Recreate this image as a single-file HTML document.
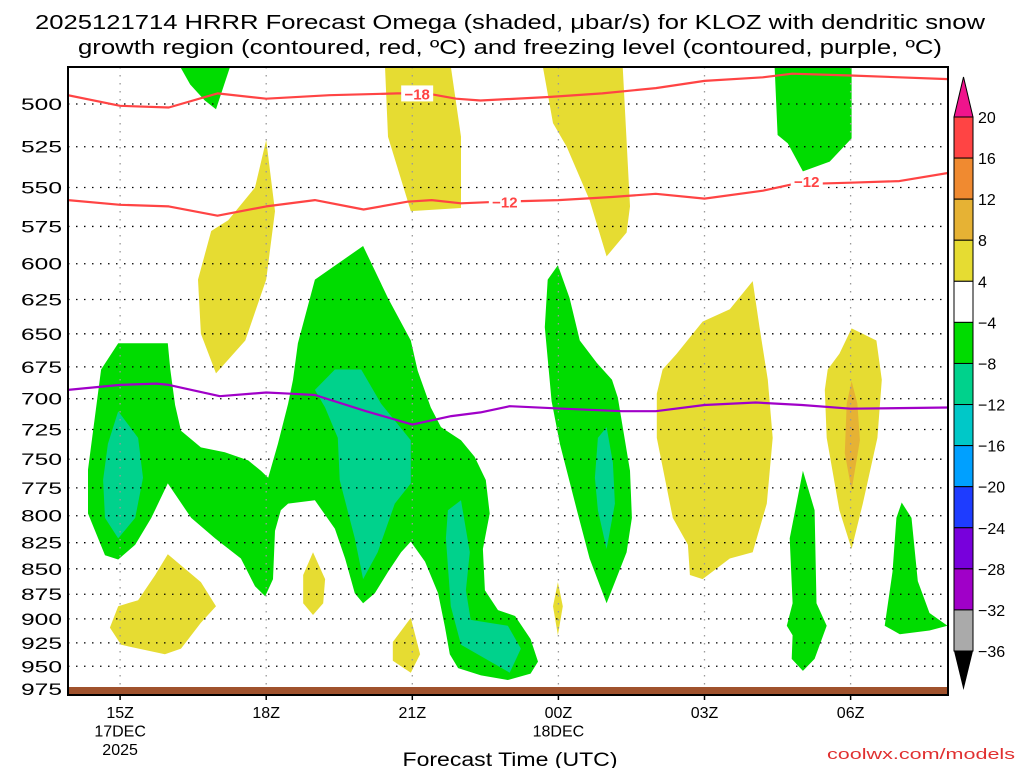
<!DOCTYPE html>
<html><head><meta charset="utf-8"><style>
html,body{margin:0;padding:0;background:#fff;}
svg{display:block;font-family:"Liberation Sans","DejaVu Sans",sans-serif;}
</style></head><body>
<svg id="chart" width="1024" height="768" viewBox="0 0 1024 768" xmlns="http://www.w3.org/2000/svg">
<g font-size="20" fill="#000" text-anchor="middle">
<text x="510" y="29" textLength="950" lengthAdjust="spacingAndGlyphs">2025121714 HRRR Forecast Omega (shaded, μbar/s) for KLOZ with dendritic snow</text>
<text x="510" y="54" textLength="864" lengthAdjust="spacingAndGlyphs">growth region (contoured, red, ºC) and freezing level (contoured, purple, ºC)</text>
</g>
<g id="plot"></g>
<g id="axes"></g>
<g id="cbar"></g>
<text x="510" y="766" font-size="19" text-anchor="middle" textLength="215" lengthAdjust="spacingAndGlyphs">Forecast Time (UTC)</text>
<text x="1015" y="759" font-size="15" fill="#e03030" text-anchor="end" textLength="188" lengthAdjust="spacingAndGlyphs">coolwx.com/models</text>
</svg>
<script>
// ---- data (hours since 17DEC 00Z, pressure hPa) ----
const pressureTicks = [500,525,550,575,600,625,650,675,700,725,750,775,800,825,850,875,900,925,950,975];
const timeTicks = [15,18,21,24,27,30];
const timeTickLabels = [["15Z","17DEC","2025"],["18Z"],["21Z"],["00Z","18DEC"],["03Z"],["06Z"]];
const cbarLevels = [20,16,12,8,4,-4,-8,-12,-16,-20,-24,-28,-32,-36];
const cbarColors = ["#ff4444","#f08a30","#e6b234","#e6dc32","#ffffff","#00dc00","#00d28c","#00c8c8","#00a0ff","#1e3cff","#7800dc","#a000c8","#aaaaaa"];

const dgz18 = [[13.93,495],[15,501],[16,502],[17,494],[18,497],[19.3,495],[20.7,494],[21.3,494],[21.9,497],[22.4,498],[23.8,496],[24.9,494],[26,491],[27,487],[28.2,485],[28.8,483],[30,484],[32,486]];
const dgz12 = [[13.93,558],[15,561],[16,562],[17,568],[18,562],[19,558],[20,564],[20.9,559],[21.4,558],[22,560],[22.8,559],[24,558],[25.1,556],[26,554],[27,557],[28.2,552],[28.8,548],[30,547],[31,546],[32,541]];
const freezing = [[13.93,693],[15,689],[15.75,688],[16,689],[17.05,698],[18,695],[18.5,696],[19,697],[20.05,710],[21,721],[21.8,714],[22.4,711],[23,706],[24.1,708],[25.3,710],[26,710],[27,705],[28.05,703],[29,705],[30,708],[32,707]];

const omegaGreen = [
 [[16.23,479],[17.26,479],[16.97,503],[16.74,498],[16.44,489]],
 [[14.96,657],[14.61,677],[14.34,759],[14.34,798],[14.69,837],[14.96,841],[15.31,827],[15.64,802],[15.98,771],[16.46,802],[16.95,821],[17.48,840],[17.77,867],[17.98,877],[18.14,860],[18.18,814],[18.30,795],[18.45,789],[19.0,786],[19.41,812],[19.62,840],[19.82,874],[19.99,884],[20.23,874],[20.50,853],[20.77,834],[20.97,824],[21.26,843],[21.53,874],[21.67,908],[21.77,937],[21.94,952],[22.41,960],[22.96,965],[23.43,958],[23.58,945],[23.43,921],[23.11,897],[22.76,891],[22.49,871],[22.45,831],[22.59,798],[22.51,768],[22.28,748],[22.0,734],[21.59,723],[21.38,707],[21.11,678],[20.97,655],[20.50,624],[19.99,588],[19.0,611],[18.65,657],[18.55,685],[18.45,704],[18.24,737],[18.04,766],[17.89,760],[17.63,751],[17.15,744],[16.66,740],[16.25,726],[16.13,705],[16.03,677],[15.98,657]],
 [[28.44,479],[30.02,479],[30.02,520],[29.57,534],[29.02,540],[28.71,523],[28.50,518]],
 [[23.99,601],[24.23,624],[24.44,655],[24.79,672],[25.10,685],[25.22,699],[25.47,760],[25.51,802],[25.40,834],[24.99,884],[24.64,840],[24.38,795],[24.03,737],[23.86,702],[23.72,645],[23.78,611]],
 [[29.02,760],[29.26,795],[29.30,884],[29.51,907],[29.26,942],[29.02,955],[28.79,942],[28.81,917],[28.69,907],[28.81,884],[28.75,821]],
 [[31.05,788],[31.25,802],[31.38,862],[31.62,894],[31.99,907],[31.62,912],[31.01,916],[30.70,907],[30.86,853],[30.94,802]]
];
const omegaTeal = [
 [[14.96,710],[15.37,732],[15.47,766],[15.31,802],[14.96,821],[14.69,802],[14.65,768],[14.75,737]],
 [[19.0,693],[19.41,677],[19.95,677],[20.36,704],[20.97,734],[20.97,771],[20.64,789],[20.29,834],[19.99,860],[19.82,821],[19.51,768],[19.47,732],[19.21,707]],
 [[21.73,795],[22.0,786],[22.18,834],[22.10,871],[22.20,901],[22.96,907],[23.23,931],[23.0,957],[22.0,927],[21.79,887],[21.69,821]],
 [[24.99,723],[25.12,753],[25.16,789],[24.99,831],[24.81,795],[24.75,766],[24.81,732]]
];
const omegaYellow = [
 [[20.44,479],[21.79,479],[22.0,519],[22.0,563],[20.97,565],[20.50,519]],
 [[18.0,521],[18.18,565],[18.0,611],[17.57,655],[16.97,680],[16.66,650],[16.60,611],[16.87,578],[17.22,571],[17.77,550]],
 [[15.98,836],[16.66,863],[16.97,887],[16.66,904],[16.25,931],[15.92,937],[15.02,927],[14.79,909],[14.96,887],[15.37,881],[15.72,856]],
 [[18.96,834],[19.21,860],[19.17,884],[18.96,896],[18.76,884],[18.76,856]],
 [[20.97,899],[21.16,937],[20.97,957],[20.60,944],[20.60,924]],
 [[23.68,479],[25.32,479],[25.47,562],[25.40,579],[24.99,595],[24.64,558],[24.17,525],[23.89,511]],
 [[23.99,863],[24.09,887],[23.99,917],[23.89,887]],
 [[27.99,612],[28.13,645],[28.30,685],[28.40,732],[28.28,789],[27.99,834],[27.52,840],[26.96,860],[26.70,856],[26.66,827],[26.35,802],[26.02,732],[26.02,696],[26.14,677],[26.43,665],[26.96,641],[27.52,632]],
 [[30.02,646],[30.53,655],[30.64,685],[30.55,732],[30.25,789],[30.02,831],[29.77,795],[29.51,732],[29.47,693],[29.53,677],[29.77,665]]
];
const omegaOrange = [
 [[30.02,686],[30.14,704],[30.19,734],[30.02,777],[29.88,745],[29.92,704]]
];
const contourLabels = [["−18",21.1,494],["−12",22.9,559],["−12",29.1,546]];

// ---- axes ----
const X0=68, X1=948, Y0=67, Y1=695;
const H0=13.93, H1=32.0;
function xs(h){return X0+(h-H0)/(H1-H0)*(X1-X0);}
function ys(p){return 104+Math.log(p/500)*876;}
const NS="http://www.w3.org/2000/svg";
function mk(tag,attrs,parent){const e=document.createElementNS(NS,tag);for(const k in attrs)e.setAttribute(k,attrs[k]);parent.appendChild(e);return e;}
const plot=document.getElementById('plot'), axes=document.getElementById('axes'), cbar=document.getElementById('cbar');

const clip=mk('clipPath',{id:'pc'},plot);
mk('rect',{x:X0,y:Y0,width:X1-X0,height:Y1-Y0},clip);
const inner=mk('g',{'clip-path':'url(#pc)'},plot);

function ptsStr(arr){return arr.map(d=>xs(d[0]).toFixed(1)+','+ys(d[1]).toFixed(1)).join(' ');}
function drawPolys(list,color,name){
  list.forEach((poly,i)=>{
    const el=mk('polygon',{points:ptsStr(poly),fill:color},inner);
    
    
  });
}
drawPolys(omegaYellow,'#e6dc32','omega-yellow-region');
drawPolys(omegaOrange,'#e6b234','omega-orange-region');
drawPolys(omegaGreen,'#00dc00','omega-green-region');
drawPolys(omegaTeal,'#00d28c','omega-teal-region');

// grid
pressureTicks.forEach(p=>{
  const g=mk('line',{x1:X0,x2:X1,y1:ys(p),y2:ys(p),stroke:'#000','stroke-width':1.3,'stroke-dasharray':'1.5,6.5'},inner);
  
  
});
timeTicks.forEach(h=>{
  const g=mk('line',{x1:xs(h),x2:xs(h),y1:Y0,y2:Y1,stroke:'#999','stroke-width':1.3,'stroke-dasharray':'1.5,6.5'},inner);
  
  
});

// ground
const gr=mk('rect',{x:X0,y:687,width:X1-X0,height:Y1-687,fill:'#a0522d'},inner);



function drawLine(arr,color,name){
  const el=mk('polyline',{points:ptsStr(arr),fill:'none',stroke:color,'stroke-width':2.2,'stroke-linejoin':'round'},inner);
  
  
}
drawLine(dgz18,'#ff4444','dgz-minus18-contour');
drawLine(dgz12,'#ff4444','dgz-minus12-contour');
drawLine(freezing,'#a000c8','freezing-level-contour');
contourLabels.forEach(c=>{
  const bx=mk('rect',{x:xs(c[1])-16,y:ys(c[2])-8,width:32,height:16,fill:'#fff'},inner);
  
  
  const t=mk('text',{x:xs(c[1]),y:ys(c[2])+6,'font-size':15,'font-weight':'bold',fill:'#ff4444','text-anchor':'middle'},inner);
  t.textContent=c[0];
  
  
});

// frame
const fr=mk('rect',{x:X0,y:Y0,width:X1-X0,height:Y1-Y0,fill:'none',stroke:'#000','stroke-width':2},axes);



pressureTicks.forEach(p=>{
  const t=mk('text',{x:62,y:ys(p)+6,'font-size':17,'text-anchor':'end',fill:'#000',textLength:41,lengthAdjust:'spacingAndGlyphs'},axes);
  t.textContent=p;
  
  
});
timeTicks.forEach((h,i)=>{
  const tk=mk('line',{x1:xs(h),x2:xs(h),y1:Y1,y2:Y1+5,stroke:'#000','stroke-width':1.5},axes);
  
  
  timeTickLabels[i].forEach((s,j)=>{
    const t=mk('text',{x:xs(h),y:718+j*18.5,'font-size':16,'text-anchor':'middle',fill:'#000'},axes);
    t.textContent=s;
    
    
  });
});

// colorbar
const CX0=954, CX1=973, CT=117, CSTEP=(651-117)/13;
function cy(i){return CT+i*CSTEP;}
const tt=mk('polygon',{points:`${CX0},${CT} ${CX1},${CT} ${(CX0+CX1)/2},77`,fill:'#f0148c',stroke:'#000','stroke-width':1},cbar);


cbarColors.forEach((c,i)=>{
  const r=mk('rect',{x:CX0,y:cy(i),width:CX1-CX0,height:CSTEP,fill:c,stroke:'#000','stroke-width':1},cbar);
  
  
});
const bt=mk('polygon',{points:`${CX0},${cy(13)} ${CX1},${cy(13)} ${(CX0+CX1)/2},690`,fill:'#000'},cbar);


cbarLevels.forEach((v,i)=>{
  const t=mk('text',{x:978,y:cy(i)+6,'font-size':16,fill:'#000'},cbar);
  t.textContent=v<0?('−'+(-v)):String(v);
  
  
});
</script>
</body></html>
